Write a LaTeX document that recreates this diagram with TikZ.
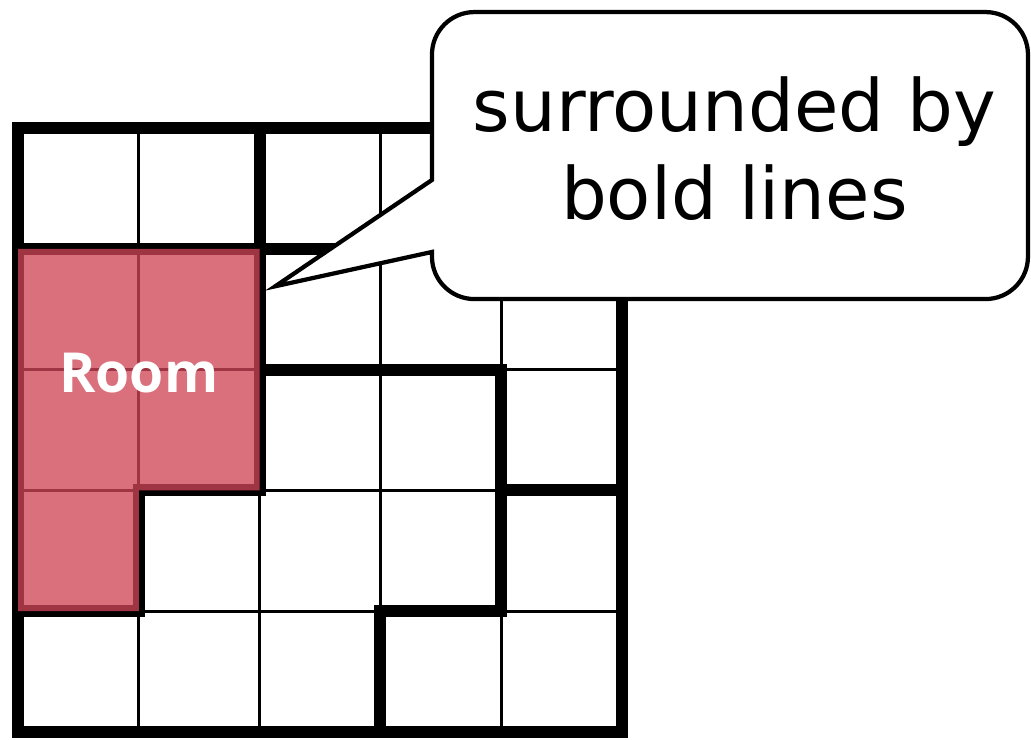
\documentclass[tikz,border=0pt]{standalone}
\usepackage{fontspec}
\setmainfont{DejaVu Sans}
\newfontfamily\roomfont{Open Sans}
\definecolor{roompink}{RGB}{208,69,86}

\begin{document}
\begin{tikzpicture}[thinline/.style={line width=0.7pt},
	boldline/.style={line width=2.8pt, line cap=rect, line join=miter},
	bubble/.style={line width=1pt, fill=white, line join=miter},
	font=\fontsize{17}{20.7}\selectfont]
			\useasboundingbox (-0.149,-0.058) rectangle (8.386,6.06);
			
			\draw[thinline] (0,0) grid (5,5);
			
			\draw[boldline] (0,0) rectangle (5,5);
			\draw[boldline] (2,5) -- (2,4);
			\draw[boldline] (0,4) -- (5,4);
			\draw[boldline] (2,4) -- (2,2) -- (1,2) -- (1,1) -- (0,1);
			\draw[boldline] (2,3) -- (4,3) -- (4,1) -- (3,1) -- (3,0);
			\draw[boldline] (4,2) -- (5,2);
			
			\fill[roompink, fill opacity=0.77] (0,4) -- (2,4) -- (2,2) -- (1,2) -- (1,1) -- (0,1) -- cycle;
			\node[text=white, font=\roomfont\bfseries\fontsize{13}{15}\selectfont] (roomlabel) at (1,2.97) {Room};
			
			\coordinate (tip) at (2.13,3.690);
			\draw[bubble] (tip) -- (3.427,4.570) [rounded corners=10pt] -- (3.427,5.960) -- (8.361,5.960) -- (8.361,3.584) -- (3.427,3.584) [sharp corners] -- (3.427,3.974) -- cycle;
			\node[align=center] (bubbletext) at (5.93,4.83) {surrounded by\\bold lines};
	\end{tikzpicture}
\end{document}
